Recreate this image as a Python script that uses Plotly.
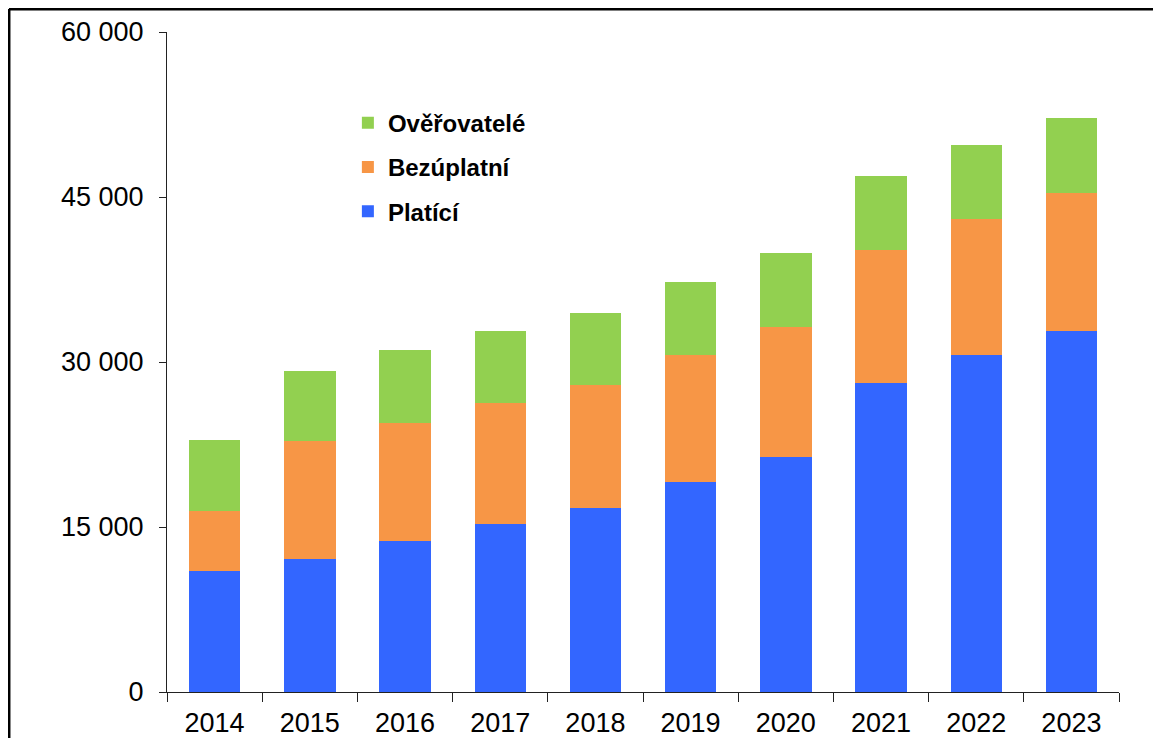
import plotly.graph_objects as go

years = ["2014", "2015", "2016", "2017", "2018", "2019", "2020", "2021", "2022", "2023"]
platici = [11000, 12100, 13700, 15300, 16700, 19100, 21400, 28100, 30600, 32800]
bezuplatni = [5450, 10700, 10800, 11000, 11200, 11500, 11800, 12100, 12400, 12600]
overovatele = [6450, 6400, 6600, 6500, 6600, 6700, 6700, 6700, 6700, 6800]

fig = go.Figure()
fig.add_trace(go.Bar(x=years, y=platici, name="Platící", marker=dict(color="#3366FF", line=dict(width=0)),
                     legendgroup="a", legendrank=3))
fig.add_trace(go.Bar(x=years, y=bezuplatni, name="Bezúplatní", marker=dict(color="#F79646", line=dict(width=0)),
                     legendgroup="b", legendrank=2))
fig.add_trace(go.Bar(x=years, y=overovatele, name="Ověřovatelé", marker=dict(color="#92D050", line=dict(width=0)),
                     legendgroup="c", legendrank=1))

fig.update_layout(
    barmode="stack",
    bargap=0.46,
    width=1161, height=738,
    margin=dict(l=159, r=50, t=24, b=54, autoexpand=False),
    paper_bgcolor="white", plot_bgcolor="white",
    font=dict(family="Liberation Sans, Arial, sans-serif", size=27, color="black"),
    separators=", ",
    showlegend=True,
    legend=dict(
        x=0.19, y=0.896, xanchor="left", yanchor="top",
        traceorder="grouped", tracegroupgap=10,
        font=dict(size=24, family="Liberation Sans, Arial, sans-serif", color="black", weight="bold"),
        bgcolor="rgba(0,0,0,0)",
    ),
    xaxis=dict(
        type="category", showline=True, linecolor="#222", linewidth=1.2,
        ticks="outside", ticklen=9, tickcolor="#222", tickson="boundaries",
        ticklabelstandoff=6, automargin=False,
        showgrid=False, zeroline=False,
    ),
    yaxis=dict(
        range=[0, 60000], tickvals=[0, 15000, 30000, 45000, 60000], tickformat=",d",
        showline=True, linecolor="#222", linewidth=1.2,
        ticks="outside", ticklen=7, tickcolor="#222", ticklabelstandoff=10, automargin=False,
        showgrid=False, zeroline=False,
    ),
    shapes=[
        dict(type="line", xref="paper", yref="paper", x0=-0.166, x1=1.1, y0=1.035, y1=1.035,
             line=dict(color="black", width=3)),
        dict(type="line", xref="paper", yref="paper", x0=-0.166, x1=-0.166, y0=1.035, y1=-0.12,
             line=dict(color="black", width=3)),
    ],
)

fig.write_html("out.html")
